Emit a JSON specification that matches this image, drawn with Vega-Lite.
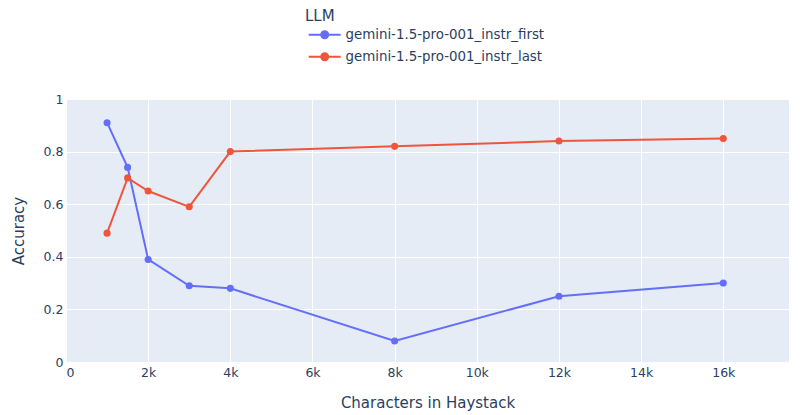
{
  "$schema": "https://vega.github.io/schema/vega-lite/v6.json",
  "autosize": {"type": "none"},
  "width": 723,
  "height": 263,
  "padding": {"left": 66, "top": 99, "right": 11, "bottom": 53},
  "background": "white",
  "config": {
    "font": "DejaVu Sans",
    "view": {"fill": "#e5ecf6", "stroke": null},
    "axis": {
      "domain": false,
      "ticks": false,
      "gridColor": "white",
      "gridWidth": 1,
      "labelColor": "#2a3f5f",
      "titleColor": "#2a3f5f",
      "labelFont": "DejaVu Sans",
      "titleFont": "DejaVu Sans",
      "labelFontSize": 12.5,
      "titleFontSize": 15,
      "titleFontWeight": "normal"
    },
    "legend": {
      "labelFont": "DejaVu Sans",
      "titleFont": "DejaVu Sans",
      "labelColor": "#2a3f5f",
      "titleColor": "#2a3f5f",
      "labelFontSize": 13.4,
      "titleFontSize": 15,
      "titleFontWeight": "normal"
    }
  },
  "data": {
    "values": [
      {"chars": 1000, "acc": 0.91, "LLM": "gemini-1.5-pro-001_instr_first"},
      {"chars": 1500, "acc": 0.74, "LLM": "gemini-1.5-pro-001_instr_first"},
      {"chars": 2000, "acc": 0.39, "LLM": "gemini-1.5-pro-001_instr_first"},
      {"chars": 3000, "acc": 0.29, "LLM": "gemini-1.5-pro-001_instr_first"},
      {"chars": 4000, "acc": 0.28, "LLM": "gemini-1.5-pro-001_instr_first"},
      {"chars": 8000, "acc": 0.08, "LLM": "gemini-1.5-pro-001_instr_first"},
      {"chars": 12000, "acc": 0.25, "LLM": "gemini-1.5-pro-001_instr_first"},
      {"chars": 16000, "acc": 0.30, "LLM": "gemini-1.5-pro-001_instr_first"},
      {"chars": 1000, "acc": 0.49, "LLM": "gemini-1.5-pro-001_instr_last"},
      {"chars": 1500, "acc": 0.70, "LLM": "gemini-1.5-pro-001_instr_last"},
      {"chars": 2000, "acc": 0.65, "LLM": "gemini-1.5-pro-001_instr_last"},
      {"chars": 3000, "acc": 0.59, "LLM": "gemini-1.5-pro-001_instr_last"},
      {"chars": 4000, "acc": 0.80, "LLM": "gemini-1.5-pro-001_instr_last"},
      {"chars": 8000, "acc": 0.82, "LLM": "gemini-1.5-pro-001_instr_last"},
      {"chars": 12000, "acc": 0.84, "LLM": "gemini-1.5-pro-001_instr_last"},
      {"chars": 16000, "acc": 0.85, "LLM": "gemini-1.5-pro-001_instr_last"}
    ]
  },
  "encoding": {
    "x": {
      "field": "chars",
      "type": "quantitative",
      "title": "Characters in Haystack",
      "scale": {"domain": [0, 17600], "nice": false, "zero": false},
      "axis": {
        "values": [0, 2000, 4000, 6000, 8000, 10000, 12000, 14000, 16000],
        "labelExpr": "datum.value == 0 ? '0' : (datum.value / 1000) + 'k'",
        "labelPadding": 4,
        "titleY": 33,
        "titleBaseline": "top"
      }
    },
    "y": {
      "field": "acc",
      "type": "quantitative",
      "title": "Accuracy",
      "scale": {"domain": [0, 1], "nice": false},
      "axis": {
        "values": [0, 0.2, 0.4, 0.6, 0.8, 1],
        "format": "~g",
        "labelPadding": 3,
        "titleX": -48,
        "titleBaseline": "middle"
      }
    },
    "color": {
      "field": "LLM",
      "type": "nominal",
      "scale": {"range": ["#636efa", "#ef553b"]},
      "legend": {
        "orient": "none",
        "legendX": 239,
        "legendY": -90,
        "labelLimit": 400,
        "symbolType": "M-3.2,0L3.2,0M0.7,0A0.7,0.7 0 1 1 -0.7,0A0.7,0.7 0 1 1 0.7,0Z",
        "symbolSize": 100,
        "symbolStrokeWidth": 2,
        "symbolOffset": 13,
        "labelOffset": 14,
        "rowPadding": 6,
        "titlePadding": 4
      }
    }
  },
  "layer": [
    {"mark": {"type": "line", "strokeWidth": 2}},
    {"mark": {"type": "point", "filled": true, "size": 50, "opacity": 1}}
  ]
}
